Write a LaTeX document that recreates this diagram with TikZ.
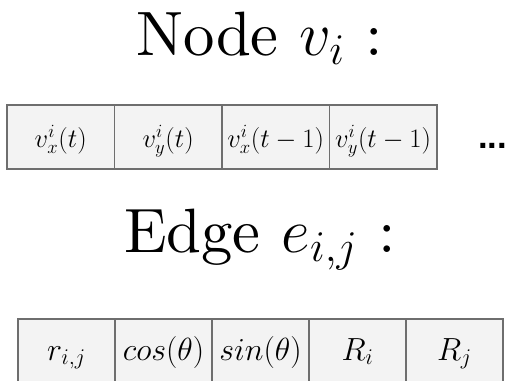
\RequirePackage{fix-cm}
\documentclass[tikz,border=0pt]{standalone}
\usepackage{fontspec}
\newfontfamily\dotfont{Liberation Sans}
\newfontfamily\headfont{lmroman10-regular.otf}
\usetikzlibrary{positioning}
\definecolor{cellline}{RGB}{110,110,110}
\definecolor{cellfill}{RGB}{243,243,243}
\tikzset{
heading/.style={anchor=base,inner sep=0pt,font=\headfont\fontsize{47}{56}\selectfont},
nodecell/.style={draw=cellline,fill=cellfill,line width=1pt,inner sep=0pt,outer sep=0pt,minimum width=80.6pt,text height=31.5pt,text depth=16.5pt,font=\fontsize{20}{24}\selectfont},
edgecell/.style={draw=cellline,fill=cellfill,line width=1pt,inner sep=0pt,outer sep=0pt,minimum width=72.75pt,text height=30.75pt,text depth=26.25pt,font=\fontsize{24}{29}\selectfont},
moredots/.style={anchor=base,inner sep=0pt,font=\dotfont\bfseries\fontsize{26}{31}\selectfont}
}
\begin{document}
\begin{tikzpicture}[x=0.75pt,y=-0.75pt]
\useasboundingbox (0,0) rectangle (507,380);

% node features
\node[heading] (nodehead) at (259.5,55) {Node $v_i$ :};
\node[nodecell,anchor=north west] (vx) at (7,105) {$v_x^i(t)$};
\node[nodecell,right=0pt of vx] (vy) {$v_y^i(t)$};
\node[nodecell,right=0pt of vy] (vxold) {$v_x^i(t-1)$};
\node[nodecell,right=0pt of vxold] (vyold) {$v_y^i(t-1)$};
\node[moredots] (dots) at (492.5,148) {...};

% edge features
\node[heading] (edgehead) at (260,252) {Edge $e_{i,j}$ :};
\node[edgecell,anchor=north west] (rij) at (18,319) {$r_{i,j}$};
\node[edgecell,right=0pt of rij] (costh) {$cos(\theta)$};
\node[edgecell,right=0pt of costh] (sinth) {$sin(\theta)$};
\node[edgecell,right=0pt of sinth] (ri) {$R_i$};
\node[edgecell,right=0pt of ri] (rj) {$R_j$};
\end{tikzpicture}
\end{document}
